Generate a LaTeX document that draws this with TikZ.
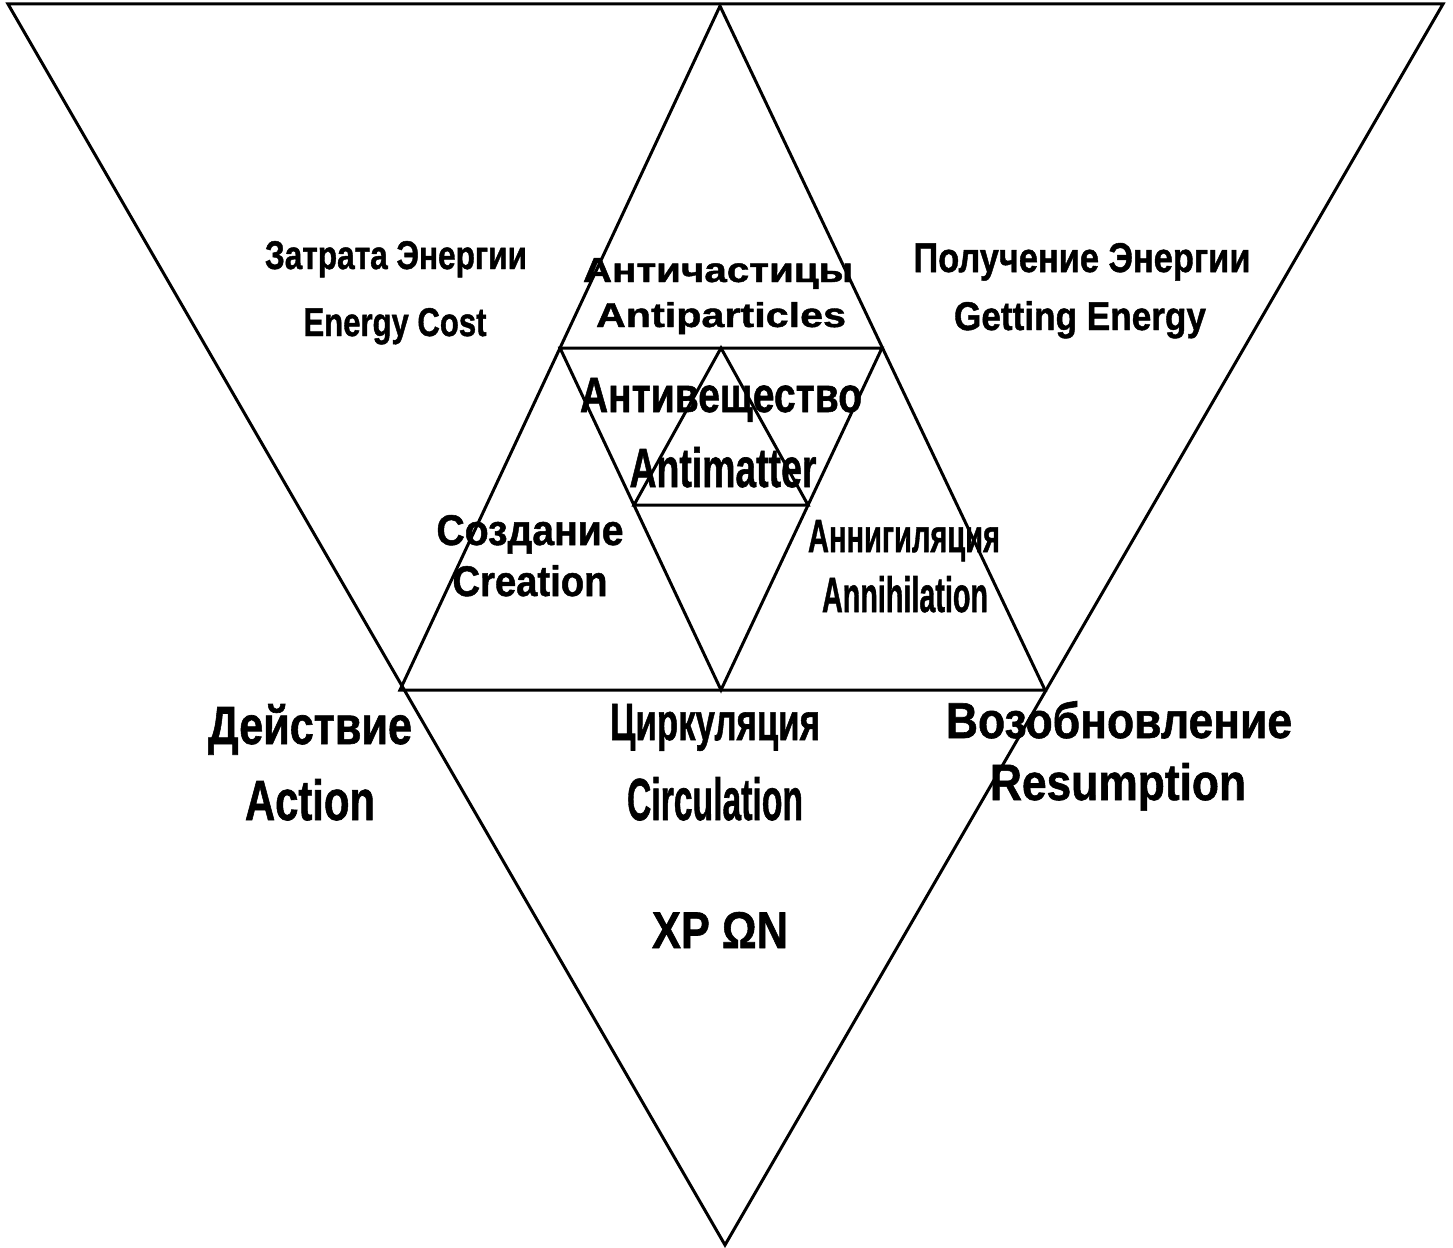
\documentclass[tikz,border=0pt]{standalone}
\usepackage{fontspec}
\setmainfont{Liberation Sans}[BoldFeatures={FakeBold=1.2}]
\usepackage{graphicx}
\newcommand{\fitt}[3]{\resizebox{#1pt}{#2pt}{\bfseries #3}}
\begin{document}
\begin{tikzpicture}[x=1pt,y=-1pt,
  edge/.style={line width=3pt,line join=miter,black},
  lbl/.style={anchor=base,inner sep=0pt,outer sep=0pt}]
\useasboundingbox (0,0) rectangle (1453,1247);
% corner points
\coordinate (A) at (8,4);
\coordinate (B) at (1443,4);
\coordinate (C) at (725,1245);
\coordinate (T) at (720,6);
\coordinate (L) at (400,690);
\coordinate (R) at (1045,690);
\coordinate (ML) at (560,348);
\coordinate (MR) at (882,348);
\coordinate (MB) at (721,690);
\coordinate (S) at (721,348);
\coordinate (SL) at (634,505);
\coordinate (SR) at (808,505);
% big inverted triangle
\draw[edge] (A) -- (B) -- (C) -- cycle;
% upright triangle
\draw[edge] (T) -- (R) -- (L) -- cycle;
% inner inverted triangle
\draw[edge] (ML) -- (MR) -- (MB) -- cycle;
% small upright triangle
\draw[edge] (S) -- (SR) -- (SL) -- cycle;
% labels
\node[lbl] (cost1) at (396,269) {\fitt{262}{28}{Затрата Энергии}};
\node[lbl] (cost2) at (395,336) {\fitt{183}{28}{Energy Cost}};
\node[lbl] (ap1) at (718,282) {\fitt{270}{24}{Античастицы}};
\node[lbl] (ap2) at (721,327) {\fitt{250}{25}{Antiparticles}};
\node[lbl] (get1) at (1082,272) {\fitt{337}{29}{Получение Энергии}};
\node[lbl] (get2) at (1080,330) {\fitt{252}{29}{Getting Energy}};
\node[lbl] (am1) at (721,412) {\fitt{282}{34}{Антивещество}};
\node[lbl] (am2) at (723,487) {\fitt{187}{40}{Antimatter}};
\node[lbl] (cr1) at (530,545) {\fitt{187}{30}{Создание}};
\node[lbl] (cr2) at (530,596) {\fitt{155}{31}{Creation}};
\node[lbl] (an1) at (904,552) {\fitt{192}{32}{Аннигиляция}};
\node[lbl] (an2) at (905,612) {\fitt{166}{36}{Annihilation}};
\node[lbl] (act1) at (310,744) {\fitt{204}{40}{Действие}};
\node[lbl] (act2) at (310,820) {\fitt{130}{41}{Action}};
\node[lbl] (cir1) at (715,740) {\fitt{210}{36}{Циркуляция}};
\node[lbl] (cir2) at (715,820) {\fitt{176}{43}{Circulation}};
\node[lbl] (res1) at (1119,738) {\fitt{346}{37}{Возобновление}};
\node[lbl] (res2) at (1118,800) {\fitt{256}{37}{Resumption}};
\node[lbl] (xp) at (720,948) {\fitt{136}{36}{XP ΩN}};
\end{tikzpicture}
\end{document}
